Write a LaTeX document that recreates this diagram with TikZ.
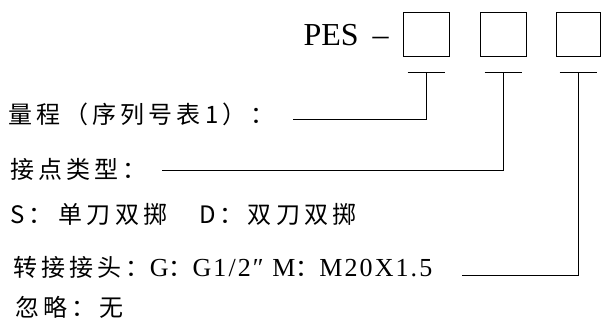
\documentclass[tikz,border=0pt]{standalone}
\usepackage{fontspec}
\setmainfont{Liberation Serif}
\newfontfamily\cjk[LetterSpace=17]{Noto Sans CJK SC}
\newfontfamily\latfont[LetterSpace=8]{Liberation Serif}
\newcommand\lat[1]{{\latfont\fontsize{26}{26}\selectfont #1}}
\usetikzlibrary{positioning}

\begin{document}
\begin{tikzpicture}[x=1pt,y=-1pt,line width=1pt,node distance=77pt,
  slot/.style={draw,minimum width=46pt,minimum height=44pt,inner sep=0pt},
  lbl/.style={anchor=base west,inner sep=0pt,font=\cjk\fontsize{24}{24}\selectfont}]
  \useasboundingbox (0,0) rectangle (601,324);

  \node[slot] (s1) at (426,34) {};
  \node[slot] (s2) [right of=s1] {};
  \node[slot,minimum width=44pt] (s3) [right of=s2,xshift=-2pt] {};
  \node[anchor=base west,inner sep=0pt,font=\fontsize{32}{32}\selectfont] (pes) at (303,45) {PES\hspace{14pt}–};

  \node[lbl] (q1) at (8,123) {量程（序列号表1）：};
  \node[lbl] (q2) at (10,178) {接点类型：};
  \node[lbl] (q3) at (10,223) {S：\hspace{6pt}单刀双掷　D：双刀双掷};
  \node[lbl] (q4) at (13,276) {转接接头：\lat{G}：\lat{G1/2″ M}：\lat{M20X1.5}};
  \node[lbl] (q5) at (15,316) {忽略：无};

  \coordinate (e1) at (293,119);
  \coordinate (e2) at (162,170);
  \coordinate (e3) at (462,275);

  \foreach \s/\e in {s1/e1,s2/e2,s3/e3}{
    \draw ([shift={(-18.5pt,-16pt)}]\s.south) -- ([shift={(18.5pt,-16pt)}]\s.south);
    \draw ([yshift=-16pt]\s.south) |- (\e);
  }
\end{tikzpicture}
\end{document}
